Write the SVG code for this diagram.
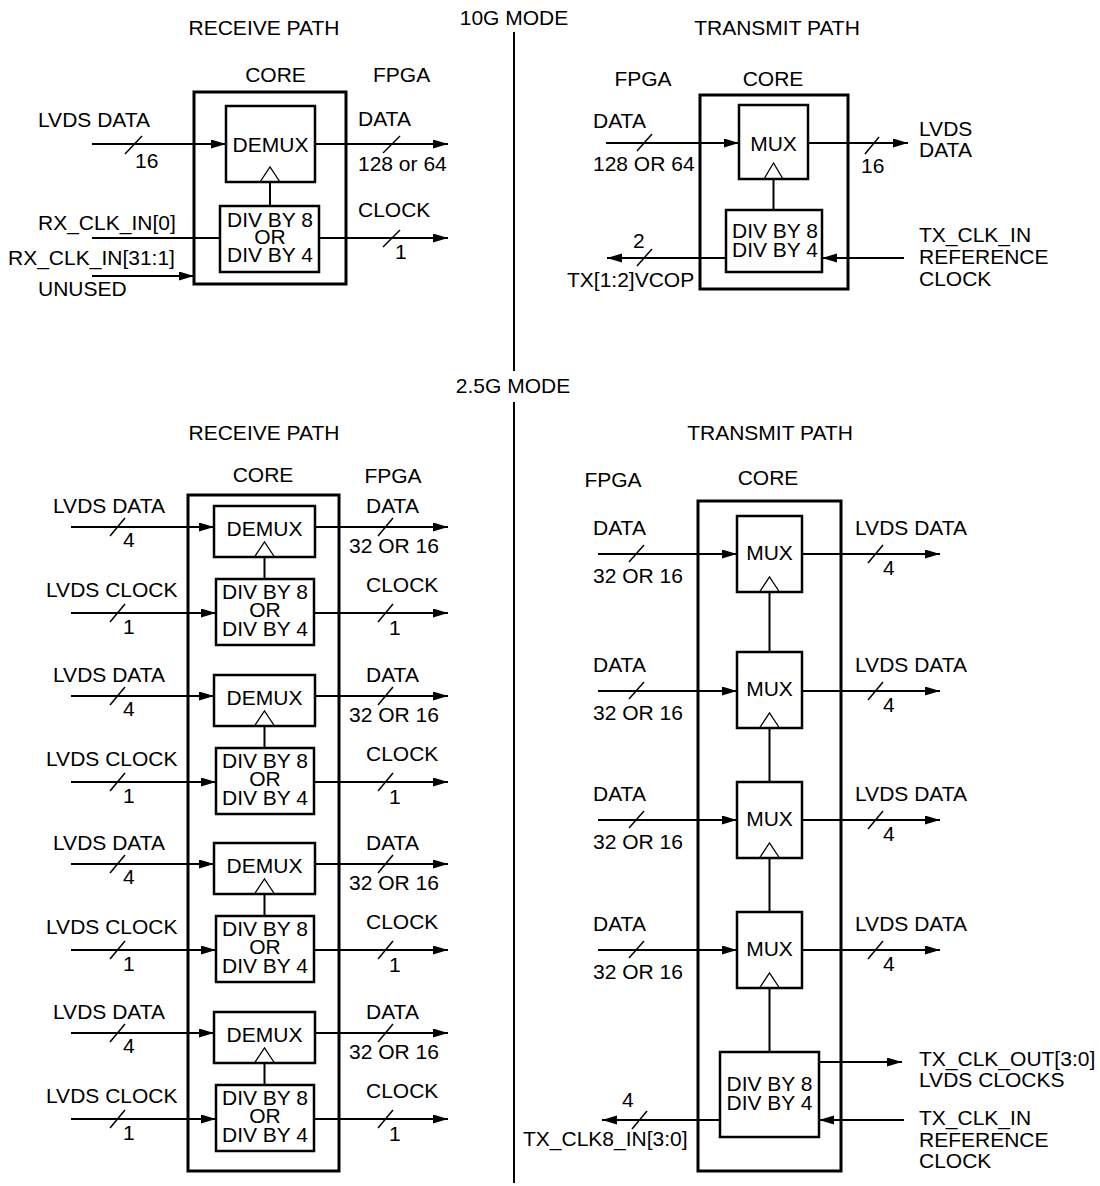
<svg xmlns="http://www.w3.org/2000/svg" width="1100" height="1186" viewBox="0 0 1100 1186">
<style>
text{font-family:"Liberation Sans",Arial,Helvetica,sans-serif;font-size:21px;fill:#000}
.m{text-anchor:middle}
.outer{fill:none;stroke:#000;stroke-width:3}
.blk{fill:#fff;stroke:#000;stroke-width:2.5}
.ln{fill:none;stroke:#000;stroke-width:2}
.ar{fill:none;stroke:#000;stroke-width:2;marker-end:url(#arr)}
.sl{fill:none;stroke:#000;stroke-width:1.5}
.tri{fill:none;stroke:#000;stroke-width:1.3}
</style>
<defs>
<marker id="arr" markerUnits="userSpaceOnUse" markerWidth="16" markerHeight="10" refX="15" refY="4.5" orient="auto"><path d="M0,0 L15,4.5 L0,9 z" fill="#000"/></marker>
</defs>
<rect width="1100" height="1186" fill="#fff"/>

<g id="titles">
<text class="m" x="514" y="25">10G MODE</text>
<text class="m" x="264" y="35">RECEIVE PATH</text>
<text class="m" x="777" y="35">TRANSMIT PATH</text>
<text class="m" x="513" y="393">2.5G MODE</text>
<text class="m" x="264" y="440">RECEIVE PATH</text>
<text class="m" x="770" y="440">TRANSMIT PATH</text>
<line class="ln" x1="514" y1="32" x2="514" y2="371"/>
<line class="ln" x1="514" y1="402" x2="514" y2="1183"/>
</g>

<!-- 10G receive -->
<g id="rx10-core">
<text class="m" x="275.5" y="82">CORE</text>
<text x="373" y="82">FPGA</text>
<rect class="outer" x="194" y="92" width="152" height="192"/>
</g>
<g id="rx10-demux">
<rect class="blk" x="226" y="106" width="89" height="76"/>
<text class="m" x="270.5" y="152">DEMUX</text>
<polyline class="tri" points="260,182 270,167 280,182"/>
</g>
<g id="rx10-div">
<rect class="blk" x="220" y="206" width="99" height="66"/>
<text class="m" x="270" y="227">DIV BY 8</text>
<text class="m" x="270" y="244">OR</text>
<text class="m" x="270" y="262">DIV BY 4</text>
</g>
<g id="rx10-labels">
<text x="38" y="127">LVDS DATA</text>
<text x="135" y="168">16</text>
<text x="358" y="126">DATA</text>
<text x="358" y="171">128 or 64</text>
<text x="358" y="217">CLOCK</text>
<text x="395" y="259">1</text>
<text x="38" y="230">RX_CLK_IN[0]</text>
<text x="8" y="265">RX_CLK_IN[31:1]</text>
<text x="38" y="296">UNUSED</text>
</g>

<!-- 10G transmit -->
<g id="tx10-core">
<text class="m" x="643" y="86">FPGA</text>
<text class="m" x="773" y="86">CORE</text>
<rect class="outer" x="700" y="95" width="148" height="194"/>
</g>
<g id="tx10-mux">
<rect class="blk" x="739" y="105" width="69" height="74"/>
<text class="m" x="773.5" y="151">MUX</text>
<polyline class="tri" points="764,179 773.5,163 783,179"/>
</g>
<g id="tx10-div">
<rect class="blk" x="726" y="210" width="96" height="62"/>
<text class="m" x="775" y="238">DIV BY 8</text>
<text class="m" x="775" y="257">DIV BY 4</text>
</g>
<g id="tx10-labels">
<text x="593" y="128">DATA</text>
<text x="593" y="171">128 OR 64</text>
<text x="861" y="173">16</text>
<text x="919" y="136">LVDS</text>
<text x="919" y="157">DATA</text>
<text x="919" y="242">TX_CLK_IN</text>
<text x="919" y="264">REFERENCE</text>
<text x="919" y="286">CLOCK</text>
<text x="633" y="248">2</text>
<text x="567" y="287">TX[1:2]VCOP</text>
</g>

<!-- 2.5G receive -->
<g id="rx25-core">
<text class="m" x="263" y="482">CORE</text>
<text class="m" x="393" y="483">FPGA</text>
<rect class="outer" x="188" y="495" width="151" height="676"/>
</g>
<g id="rx25-unit1">
<rect class="blk" x="214" y="506" width="101" height="51"/>
<text class="m" x="264.5" y="536">DEMUX</text>
<polyline class="tri" points="254.5,557 264.5,542 274.5,557"/>
<rect class="blk" x="216" y="579" width="98" height="66"/>
<text class="m" x="265" y="599">DIV BY 8</text>
<text class="m" x="265" y="617">OR</text>
<text class="m" x="265" y="636">DIV BY 4</text>
<text x="53" y="513">LVDS DATA</text><text x="123" y="547">4</text>
<text x="46" y="597">LVDS CLOCK</text><text x="123" y="634">1</text>
<text x="366" y="513">DATA</text><text x="349" y="553">32 OR 16</text>
<text x="366" y="592">CLOCK</text><text x="389" y="635">1</text>
</g>
<g id="rx25-unit2">
<rect class="blk" x="214" y="675" width="101" height="51"/>
<text class="m" x="264.5" y="705">DEMUX</text>
<polyline class="tri" points="254.5,726 264.5,711 274.5,726"/>
<rect class="blk" x="216" y="748" width="98" height="66"/>
<text class="m" x="265" y="768">DIV BY 8</text>
<text class="m" x="265" y="786">OR</text>
<text class="m" x="265" y="805">DIV BY 4</text>
<text x="53" y="682">LVDS DATA</text><text x="123" y="716">4</text>
<text x="46" y="766">LVDS CLOCK</text><text x="123" y="803">1</text>
<text x="366" y="682">DATA</text><text x="349" y="722">32 OR 16</text>
<text x="366" y="761">CLOCK</text><text x="389" y="804">1</text>
</g>
<g id="rx25-unit3">
<rect class="blk" x="214" y="843" width="101" height="51"/>
<text class="m" x="264.5" y="873">DEMUX</text>
<polyline class="tri" points="254.5,894 264.5,879 274.5,894"/>
<rect class="blk" x="216" y="916" width="98" height="66"/>
<text class="m" x="265" y="936">DIV BY 8</text>
<text class="m" x="265" y="954">OR</text>
<text class="m" x="265" y="973">DIV BY 4</text>
<text x="53" y="850">LVDS DATA</text><text x="123" y="884">4</text>
<text x="46" y="934">LVDS CLOCK</text><text x="123" y="971">1</text>
<text x="366" y="850">DATA</text><text x="349" y="890">32 OR 16</text>
<text x="366" y="929">CLOCK</text><text x="389" y="972">1</text>
</g>
<g id="rx25-unit4">
<rect class="blk" x="214" y="1012" width="101" height="51"/>
<text class="m" x="264.5" y="1042">DEMUX</text>
<polyline class="tri" points="254.5,1063 264.5,1048 274.5,1063"/>
<rect class="blk" x="216" y="1085" width="98" height="66"/>
<text class="m" x="265" y="1105">DIV BY 8</text>
<text class="m" x="265" y="1123">OR</text>
<text class="m" x="265" y="1142">DIV BY 4</text>
<text x="53" y="1019">LVDS DATA</text><text x="123" y="1053">4</text>
<text x="46" y="1103">LVDS CLOCK</text><text x="123" y="1140">1</text>
<text x="366" y="1019">DATA</text><text x="349" y="1059">32 OR 16</text>
<text x="366" y="1098">CLOCK</text><text x="389" y="1141">1</text>
</g>

<!-- 2.5G transmit -->
<g id="tx25-core">
<text class="m" x="613" y="487">FPGA</text>
<text class="m" x="768" y="485">CORE</text>
<rect class="outer" x="698" y="501" width="143" height="670"/>
</g>
<g id="tx25-mux1">
<rect class="blk" x="737" y="516" width="65" height="76"/>
<text class="m" x="769.5" y="560">MUX</text>
<polyline class="tri" points="759.5,592 769.5,577 779.5,592"/>
<text x="593" y="535">DATA</text><text x="593" y="583">32 OR 16</text>
<text x="855" y="535">LVDS DATA</text><text x="883" y="575">4</text>
</g>
<g id="tx25-mux2">
<rect class="blk" x="737" y="652" width="65" height="76"/>
<text class="m" x="769.5" y="696">MUX</text>
<polyline class="tri" points="759.5,728 769.5,713 779.5,728"/>
<text x="593" y="672">DATA</text><text x="593" y="720">32 OR 16</text>
<text x="855" y="672">LVDS DATA</text><text x="883" y="712">4</text>
</g>
<g id="tx25-mux3">
<rect class="blk" x="737" y="782" width="65" height="76"/>
<text class="m" x="769.5" y="826">MUX</text>
<polyline class="tri" points="759.5,858 769.5,843 779.5,858"/>
<text x="593" y="801">DATA</text><text x="593" y="849">32 OR 16</text>
<text x="855" y="801">LVDS DATA</text><text x="883" y="841">4</text>
</g>
<g id="tx25-mux4">
<rect class="blk" x="737" y="912" width="65" height="76"/>
<text class="m" x="769.5" y="956">MUX</text>
<polyline class="tri" points="759.5,988 769.5,973 779.5,988"/>
<text x="593" y="931">DATA</text><text x="593" y="979">32 OR 16</text>
<text x="855" y="931">LVDS DATA</text><text x="883" y="971">4</text>
</g>
<g id="tx25-div">
<rect class="blk" x="720" y="1052" width="99" height="85"/>
<text class="m" x="769.5" y="1091">DIV BY 8</text>
<text class="m" x="769.5" y="1110">DIV BY 4</text>
<text x="919" y="1066">TX_CLK_OUT[3:0]</text>
<text x="919" y="1087">LVDS CLOCKS</text>
<text x="919" y="1125">TX_CLK_IN</text>
<text x="919" y="1147">REFERENCE</text>
<text x="919" y="1168">CLOCK</text>
<text x="622" y="1107">4</text>
<text x="523" y="1146">TX_CLK8_IN[3:0]</text>
</g>

<g id="connectors">
<!-- 10G rx -->
<line class="ar" x1="92" y1="144" x2="226" y2="144"/>
<line class="sl" x1="125" y1="154" x2="142" y2="136"/>
<line class="ar" x1="315" y1="144" x2="448" y2="144"/>
<line class="sl" x1="383" y1="153" x2="400" y2="136"/>
<line class="ln" x1="270" y1="182" x2="270" y2="206"/>
<line class="ln" x1="92" y1="238" x2="220" y2="238"/>
<line class="ar" x1="319" y1="238" x2="448" y2="238"/>
<line class="sl" x1="383" y1="247" x2="400" y2="230"/>
<line class="ar" x1="92" y1="276" x2="194" y2="276"/>
<!-- 10G tx -->
<line class="ar" x1="606" y1="143" x2="739" y2="143"/>
<line class="sl" x1="637" y1="151" x2="652" y2="134"/>
<line class="ar" x1="808" y1="143" x2="908" y2="143"/>
<line class="sl" x1="865" y1="154" x2="879" y2="137"/>
<line class="ln" x1="773.5" y1="179" x2="773.5" y2="210"/>
<line class="ar" x1="904" y1="258" x2="822" y2="258"/>
<line class="ar" x1="726" y1="258" x2="607" y2="258"/>
<line class="sl" x1="637" y1="266" x2="652" y2="249"/>
<!-- 2.5G rx unit1 -->
<line class="ar" x1="71" y1="527" x2="214" y2="527"/>
<line class="sl" x1="110" y1="536" x2="125" y2="518"/>
<line class="ar" x1="71" y1="613" x2="216" y2="613"/>
<line class="sl" x1="110" y1="622" x2="125" y2="604"/>
<line class="ar" x1="315" y1="527" x2="448" y2="527"/>
<line class="sl" x1="378" y1="536" x2="393" y2="518"/>
<line class="ar" x1="314" y1="613" x2="448" y2="613"/>
<line class="sl" x1="378" y1="622" x2="393" y2="604"/>
<line class="ln" x1="264.5" y1="557" x2="264.5" y2="579"/>
<!-- unit2 -->
<line class="ar" x1="71" y1="696" x2="214" y2="696"/>
<line class="sl" x1="110" y1="705" x2="125" y2="687"/>
<line class="ar" x1="71" y1="782" x2="216" y2="782"/>
<line class="sl" x1="110" y1="791" x2="125" y2="773"/>
<line class="ar" x1="315" y1="696" x2="448" y2="696"/>
<line class="sl" x1="378" y1="705" x2="393" y2="687"/>
<line class="ar" x1="314" y1="782" x2="448" y2="782"/>
<line class="sl" x1="378" y1="791" x2="393" y2="773"/>
<line class="ln" x1="264.5" y1="726" x2="264.5" y2="748"/>
<!-- unit3 -->
<line class="ar" x1="71" y1="864" x2="214" y2="864"/>
<line class="sl" x1="110" y1="873" x2="125" y2="855"/>
<line class="ar" x1="71" y1="950" x2="216" y2="950"/>
<line class="sl" x1="110" y1="959" x2="125" y2="941"/>
<line class="ar" x1="315" y1="864" x2="448" y2="864"/>
<line class="sl" x1="378" y1="873" x2="393" y2="855"/>
<line class="ar" x1="314" y1="950" x2="448" y2="950"/>
<line class="sl" x1="378" y1="959" x2="393" y2="941"/>
<line class="ln" x1="264.5" y1="894" x2="264.5" y2="916"/>
<!-- unit4 -->
<line class="ar" x1="71" y1="1033" x2="214" y2="1033"/>
<line class="sl" x1="110" y1="1042" x2="125" y2="1024"/>
<line class="ar" x1="71" y1="1119" x2="216" y2="1119"/>
<line class="sl" x1="110" y1="1128" x2="125" y2="1110"/>
<line class="ar" x1="315" y1="1033" x2="448" y2="1033"/>
<line class="sl" x1="378" y1="1042" x2="393" y2="1024"/>
<line class="ar" x1="314" y1="1119" x2="448" y2="1119"/>
<line class="sl" x1="378" y1="1128" x2="393" y2="1110"/>
<line class="ln" x1="264.5" y1="1063" x2="264.5" y2="1085"/>
<!-- 2.5G tx -->
<line class="ar" x1="598" y1="554" x2="737" y2="554"/>
<line class="sl" x1="629" y1="562" x2="644" y2="545"/>
<line class="ar" x1="802" y1="554" x2="940" y2="554"/>
<line class="sl" x1="868" y1="563" x2="883" y2="545"/>
<line class="ar" x1="598" y1="691" x2="737" y2="691"/>
<line class="sl" x1="629" y1="699" x2="644" y2="682"/>
<line class="ar" x1="802" y1="691" x2="940" y2="691"/>
<line class="sl" x1="868" y1="700" x2="883" y2="682"/>
<line class="ar" x1="598" y1="820" x2="737" y2="820"/>
<line class="sl" x1="629" y1="828" x2="644" y2="811"/>
<line class="ar" x1="802" y1="820" x2="940" y2="820"/>
<line class="sl" x1="868" y1="829" x2="883" y2="811"/>
<line class="ar" x1="598" y1="950" x2="737" y2="950"/>
<line class="sl" x1="629" y1="958" x2="644" y2="941"/>
<line class="ar" x1="802" y1="950" x2="940" y2="950"/>
<line class="sl" x1="868" y1="959" x2="883" y2="941"/>
<line class="ln" x1="769.5" y1="592" x2="769.5" y2="652"/>
<line class="ln" x1="769.5" y1="728" x2="769.5" y2="782"/>
<line class="ln" x1="769.5" y1="858" x2="769.5" y2="912"/>
<line class="ln" x1="769.5" y1="988" x2="769.5" y2="1052"/>
<line class="ar" x1="819" y1="1062" x2="902" y2="1062"/>
<line class="ar" x1="904" y1="1120" x2="819" y2="1120"/>
<line class="ar" x1="720" y1="1120" x2="602" y2="1120"/>
<line class="sl" x1="632" y1="1129" x2="647" y2="1111"/>
</g>
</svg>
